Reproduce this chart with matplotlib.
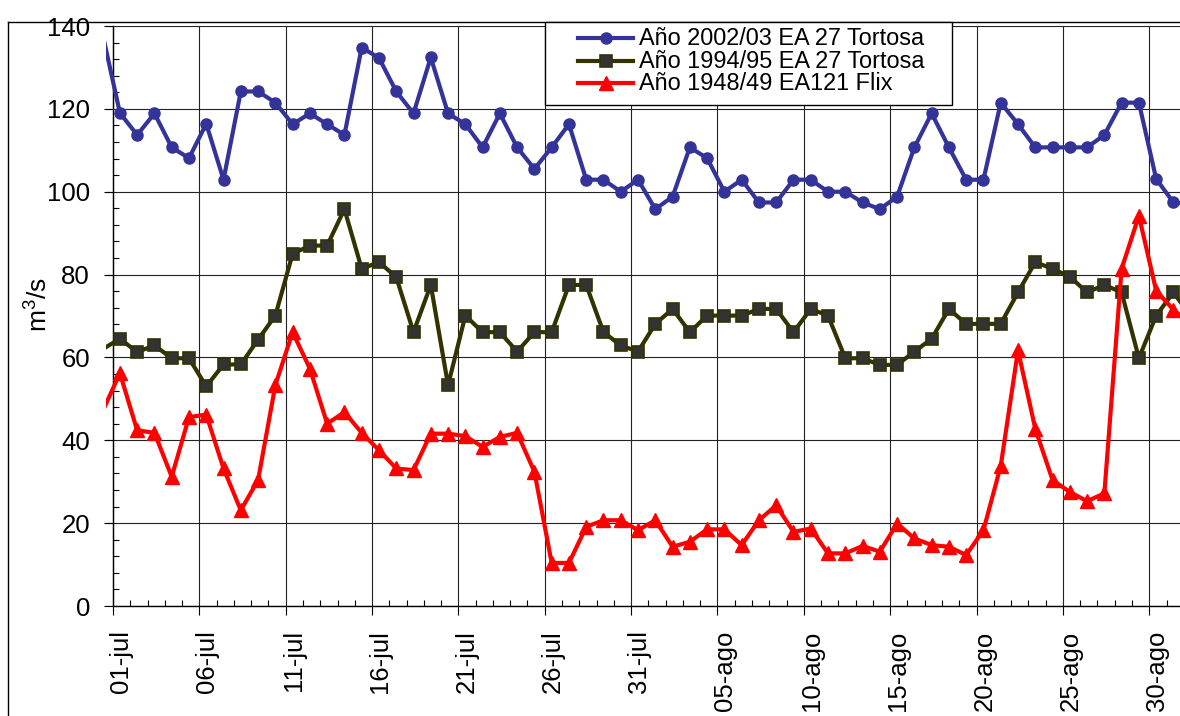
import numpy as np
import matplotlib
matplotlib.use("Agg")
import matplotlib.pyplot as plt
from matplotlib.lines import Line2D
from matplotlib.patches import Rectangle
from matplotlib.ticker import MultipleLocator, FixedLocator, FixedFormatter
from matplotlib.transforms import ScaledTranslation

plt.rcParams['font.family'] = ['Liberation Sans', 'DejaVu Sans']
plt.rcParams['mathtext.fontset'] = 'custom'
plt.rcParams['mathtext.rm'] = 'Liberation Sans'
plt.rcParams['mathtext.it'] = 'Liberation Sans:italic'

# ---- data (day index -1 .. 62, relative to 01-jul) ----
day_index = np.arange(-1, 63)
tick_days = [0, 5, 10, 15, 20, 25, 30, 35, 40, 45, 50, 55, 60]
tick_labels = ['01-jul', '06-jul', '11-jul', '16-jul', '21-jul', '26-jul', '31-jul',
               '05-ago', '10-ago', '15-ago', '20-ago', '25-ago', '30-ago']

series_names = ['Año 2002/03 EA 27 Tortosa', 'Año 1994/95 EA 27 Tortosa', 'Año 1948/49 EA121 Flix']

q_2002 = [138, 119, 113.7, 118.9, 110.7, 108.1, 116.4, 102.9, 124.2, 124.2,
          121.5, 116.3, 118.9, 116.3, 113.7, 134.8, 132.3, 124.2, 118.9, 132.4,
          118.9, 116.3, 110.7, 118.9, 110.7, 105.5, 110.7, 116.3, 102.9, 102.9,
          100, 102.9, 95.8, 98.8, 110.7, 108.1, 100, 102.9, 97.4, 97.4,
          102.9, 102.9, 100, 100, 97.4, 95.8, 98.8, 110.7, 118.9, 110.7,
          102.9, 102.9, 121.5, 116.3, 110.7, 110.7, 110.7, 110.7, 113.7, 121.5,
          121.5, 103.1, 97.4, 97]

q_1994 = [62.0, 64.5, 61.3, 62.9, 59.8, 59.8, 53.0, 58.3, 58.3, 64.3,
          70.1, 85.0, 87.0, 87.0, 95.8, 81.4, 83.0, 79.4, 66.1, 77.5,
          53.3, 70.1, 66.1, 66.1, 61.4, 66.1, 66.1, 77.5, 77.5, 66.1,
          62.9, 61.4, 68.1, 71.7, 66.1, 70.1, 70.1, 70.1, 71.7, 71.7,
          66.1, 71.7, 70.1, 59.8, 59.8, 58.2, 58.2, 61.4, 64.5, 71.7,
          68.1, 68.1, 68.1, 75.7, 83.0, 81.4, 79.5, 75.7, 77.5, 75.7,
          59.8, 70.1, 75.7, 70]

q_1948 = [47, 56.2, 42.4, 41.8, 31.2, 45.6, 46.2, 33.2, 23.1, 30.4,
          53.3, 66.1, 57.3, 44.0, 46.8, 41.8, 37.6, 33.2, 32.8, 41.6,
          41.6, 41.0, 38.4, 40.8, 41.8, 32.4, 10.4, 10.4, 19.1, 20.7,
          20.7, 18.3, 20.7, 14.3, 15.5, 18.5, 18.5, 14.7, 20.7, 24.3,
          17.9, 18.7, 12.7, 12.7, 14.5, 13.1, 19.9, 16.3, 14.7, 14.3,
          12.3, 18.3, 33.8, 61.7, 42.8, 30.4, 27.5, 25.3, 27.2, 81.4,
          94.2, 76.1, 71.5, 68]

x = day_index + 0.4

W, H = 1180, 716
fig = plt.figure(figsize=(W / 100, H / 100), dpi=100)
ax = fig.add_axes([106 / W, 1 - 606 / H, (W - 106) / W, (606 - 26) / H])

styles = [
    dict(color='#333399', marker='o', ms=8, mfc='#333399', mec='#333399', lw=3),
    dict(color='#333300', marker='s', ms=8, mfc='#333333', mec='#333300', mew=1.2, lw=3),
    dict(color='#FF0000', marker='^', ms=9.5, mfc='#FF0000', mec='#FF0000', lw=3),
]
for vals, st in zip([q_2002, q_1994, q_1948], styles):
    ax.plot(x, vals, zorder=3, markevery=slice(1, None), **st)

ax.set_xlim(-0.405, 61.78)
ax.set_ylim(0, 140)

ax.spines['left'].set_position(('data', 0))
ax.spines['top'].set_visible(False)
ax.spines['right'].set_visible(False)
ax.spines['bottom'].set_bounds(0, 61.78)
for s in ('left', 'bottom'):
    ax.spines[s].set_linewidth(1.0)
    ax.spines[s].set_color('black')

ax.xaxis.set_major_locator(FixedLocator(tick_days))
ax.xaxis.set_major_formatter(FixedFormatter(tick_labels))
ax.xaxis.set_minor_locator(MultipleLocator(1))
ax.yaxis.set_major_locator(MultipleLocator(20))
ax.yaxis.set_minor_locator(MultipleLocator(4))

ax.tick_params(which='major', direction='out', length=6.5, width=0.8, labelsize=18.5, color='black')
ax.tick_params(which='minor', direction='in', length=4.5, width=0.8, color='black')
ax.tick_params(axis='y', which='major', pad=10)
ax.tick_params(axis='x', which='major', pad=11)
for lab in ax.get_xticklabels():
    lab.set_rotation(90)
    lab.set_transform(lab.get_transform() + ScaledTranslation(8 / 100, 0, fig.dpi_scale_trans))

ax.grid(which='major', color='#222222', lw=0.8)
ax.set_axisbelow(True)

fig.text(39 / W, 1 - 305 / H, r'm$^3$/s', rotation=90, fontsize=19, ha='center', va='center')

# outer chart border (left and top edges visible)
fig.add_artist(Line2D([8 / W, 8 / W], [0, 1 - 22 / H], color='black', lw=1.0, zorder=5))
fig.add_artist(Line2D([8 / W, 1], [1 - 22 / H, 1 - 22 / H], color='black', lw=1.0, zorder=5))

# legend box
lx0, ly0, lx1, ly1 = 545, 22, 952, 105
fig.add_artist(Rectangle((lx0 / W, 1 - ly1 / H), (lx1 - lx0) / W, (ly1 - ly0) / H,
                         facecolor='white', edgecolor='black', lw=1.0, zorder=6))
baselines = [45, 67.5, 90]
for name, st, bl in zip(series_names, styles, baselines):
    yl = 1 - (bl - 7) / H
    fig.add_artist(Line2D([578 / W, 633 / W], [yl, yl], color=st['color'], lw=st['lw'], zorder=7))
    mst = {k: v for k, v in st.items() if k not in ('color', 'lw')}
    fig.add_artist(Line2D([605.5 / W], [yl], linestyle='none', zorder=8, **mst))
    fig.text(639 / W, 1 - bl / H, name, fontsize=16.9, ha='left', va='baseline', zorder=8)

fig.savefig('out.png', dpi=100)
